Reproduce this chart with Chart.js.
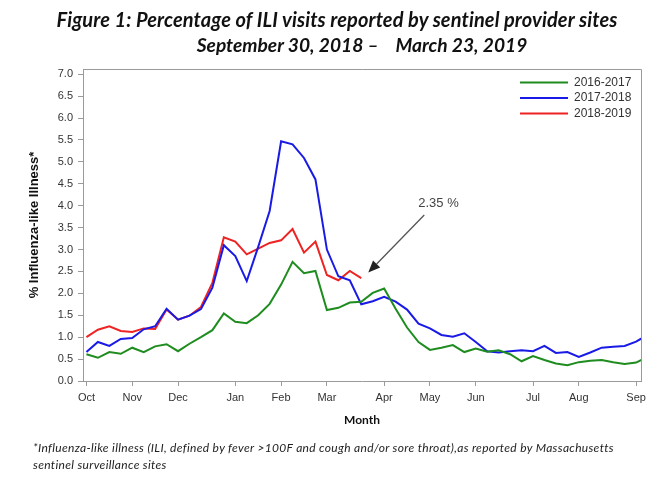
<!DOCTYPE html>
<html><head><meta charset="utf-8">
<script src="https://cdn.jsdelivr.net/npm/chart.js@4.4.1/dist/chart.umd.min.js"></script>
<style>
html,body{margin:0;padding:0;background:#fff;width:659px;height:478px;overflow:hidden;}
#wrap{position:relative;width:659px;height:478px;}
#c{position:absolute;left:0;top:0;width:659px;height:478px;}
.t{position:absolute;white-space:pre;font-family:Lato,'Open Sans',sans-serif;font-weight:bold;font-style:italic;line-height:20px;color:#111;text-align:center;width:640px;}
.f{position:absolute;white-space:pre;font-family:Lato,sans-serif;font-style:italic;font-size:12px;letter-spacing:0.33px;line-height:17px;color:#222;left:33px;}
</style></head><body>
<div id="wrap">
<canvas id="c" width="659" height="478"></canvas>
<div class="t" style="left:17px;top:9px;font-size:20px;letter-spacing:0.1px">Figure 1: Percentage of ILI visits reported by sentinel provider sites</div>
<div class="t" style="left:42px;top:35px;font-size:19.2px">September 30, 2018 –    March 23, 2019</div>
<div class="f" style="top:439px">*Influenza-like illness (ILI, defined by fever &gt;100F and cough and/or sore throat),as reported by Massachusetts</div>
<div class="f" style="top:456px">sentinel surveillance sites</div>
</div>
<script>
// week index along the x axis (0 = first week of October)
const weekIndex = [0,1,2,3,4,5,6,7,8,9,10,11,12,13,14,15,16,17,18,19,20,21,22,23,24,25,26,27,28,29,30,31,32,33,34,35,36,37,38,39,40,41,42,43,44,45,46,47,48,49];
const xTickWeeks = [0,4,8,13,17,21,26,30,34,39,43,48];
const xTickLabels = ['Oct','Nov','Dec','Jan','Feb','Mar','Apr','May','Jun','Jul','Aug','Sep'];
const yTicks = [0,0.5,1,1.5,2,2.5,3,3.5,4,4.5,5,5.5,6,6.5,7];
const seriesLabels = ['2016-2017','2017-2018','2018-2019'];
const seriesColors = ['#1e8c1e','#1a1ae6','#ee2323'];

const s1617 = [0.61,0.53,0.66,0.62,0.76,0.66,0.79,0.84,0.68,0.85,1.00,1.16,1.54,1.35,1.32,1.50,1.76,2.20,2.72,2.46,2.51,1.62,1.67,1.79,1.81,2.01,2.11,1.65,1.22,0.89,0.71,0.76,0.82,0.66,0.74,0.67,0.70,0.61,0.45,0.57,0.48,0.40,0.36,0.43,0.46,0.48,0.43,0.39,0.42,0.55];
const s1718 = [0.66,0.89,0.80,0.96,0.98,1.18,1.25,1.65,1.40,1.49,1.64,2.13,3.10,2.85,2.28,3.06,3.88,5.47,5.40,5.09,4.60,3.00,2.39,2.30,1.75,1.82,1.92,1.81,1.63,1.31,1.20,1.05,1.01,1.09,0.89,0.68,0.65,0.68,0.70,0.68,0.80,0.64,0.66,0.55,0.65,0.76,0.78,0.80,0.90,1.05];
const s1819 = [1.00,1.17,1.25,1.14,1.12,1.20,1.19,1.63,1.40,1.49,1.69,2.24,3.28,3.18,2.89,3.02,3.15,3.21,3.47,2.93,3.18,2.42,2.30,2.51,2.35];
const annotationText = '2.35 %';

const toPts = arr => arr.map((v,i)=>({x:weekIndex[i], y:v}));
const FRAME = '#9a9a9a';

const framePlugin = {
  id:'frame',
  afterDraw(chart){
    const {ctx, chartArea:a} = chart;
    ctx.save();
    ctx.strokeStyle = FRAME; ctx.lineWidth = 1;
    ctx.beginPath();
    ctx.moveTo(a.left, a.top+0.5); ctx.lineTo(a.right+0.5, a.top+0.5); ctx.lineTo(a.right+0.5, a.bottom);
    ctx.stroke();
    // legend
    ctx.font = '12px "Liberation Sans", Arial, sans-serif';
    ctx.textBaseline = 'middle';
    chart.data.datasets.forEach((ds,i)=>{
      const y = 82.5 + i*15.5;
      ctx.strokeStyle = ds.borderColor; ctx.lineWidth = 2;
      ctx.beginPath(); ctx.moveTo(a.right-121, y); ctx.lineTo(a.right-73, y); ctx.stroke();
      ctx.fillStyle = '#333'; ctx.textAlign='left';
      ctx.fillText(ds.label, a.right-67, y);
    });
    // axis titles
    ctx.fillStyle = '#111';
    ctx.font = 'bold 12px Lato, sans-serif';
    ctx.textAlign = 'center';
    ctx.fillText('Month', (a.left+a.right)/2, 420);
    ctx.save();
    ctx.translate(34, (a.top+a.bottom)/2);
    ctx.rotate(-Math.PI/2);
    ctx.font = 'bold 13px "Liberation Sans", Arial, sans-serif';
    ctx.fillText('% Influenza-like Illness*', 0, 0);
    ctx.restore();
    // annotation arrow pointing to last 2018-2019 value
    const meta = chart.getDatasetMeta(2);
    const last = meta.data[meta.data.length-1];
    const tipX = last.x + 7, tipY = last.y - 5.5;
    const tailX = last.x + 63, tailY = last.y - 63;
    const ang = Math.atan2(tipY-tailY, tipX-tailX);
    const hl = 12, hw = 5;
    const bx = tipX - hl*Math.cos(ang), by = tipY - hl*Math.sin(ang);
    ctx.strokeStyle = '#555'; ctx.fillStyle = '#222'; ctx.lineWidth = 1.3;
    ctx.beginPath(); ctx.moveTo(tailX, tailY); ctx.lineTo(bx, by); ctx.stroke();
    ctx.beginPath();
    ctx.moveTo(tipX, tipY);
    ctx.lineTo(bx + hw*Math.sin(ang), by - hw*Math.cos(ang));
    ctx.lineTo(bx - hw*Math.sin(ang), by + hw*Math.cos(ang));
    ctx.closePath(); ctx.fill();
    ctx.font = '13px "Liberation Sans", Arial, sans-serif';
    ctx.fillStyle = '#444'; ctx.textAlign = 'left'; ctx.textBaseline='middle';
    ctx.fillText(annotationText, last.x + 57, last.y - 75);
    ctx.restore();
  }
};

new Chart(document.getElementById('c'), {
  type:'line',
  data:{
    datasets:[
      {label:seriesLabels[0], data:toPts(s1617), borderColor:seriesColors[0]},
      {label:seriesLabels[1], data:toPts(s1718), borderColor:seriesColors[1]},
      {label:seriesLabels[2], data:toPts(s1819), borderColor:seriesColors[2]}
    ]
  },
  options:{
    responsive:false, animation:false, devicePixelRatio:1,
    layout:{padding:{left:0,right:18,top:69,bottom:67}},
    elements:{point:{radius:0}, line:{borderWidth:2, tension:0}},
    plugins:{legend:{display:false}, tooltip:{enabled:false}},
    scales:{
      x:{type:'linear', min:-0.3, max:48.43,
        afterBuildTicks(s){ s.ticks = xTickWeeks.map(v=>({value:v})); },
        afterFit(s){ s.height = 30; },
        grid:{drawOnChartArea:false, drawTicks:true, tickLength:5, color:FRAME},
        border:{display:true, color:FRAME},
        ticks:{autoSkip:false, maxRotation:0, padding:5, color:'#333',
          font:{family:'"Liberation Sans", Arial, sans-serif', size:11},
          callback:v=>xTickLabels[xTickWeeks.indexOf(v)]}
      },
      y:{type:'linear', min:0, max:7.12,
        afterBuildTicks(s){ s.ticks = yTicks.map(v=>({value:v})); },
        afterFit(s){ s.width = 83; },
        grid:{drawOnChartArea:false, drawTicks:true, tickLength:5, color:FRAME},
        border:{display:true, color:FRAME},
        ticks:{padding:5, color:'#333',
          font:{family:'"Liberation Sans", Arial, sans-serif', size:11},
          callback:v=>v.toFixed(1)}
      }
    }
  },
  plugins:[framePlugin]
});
</script>
</body></html>
